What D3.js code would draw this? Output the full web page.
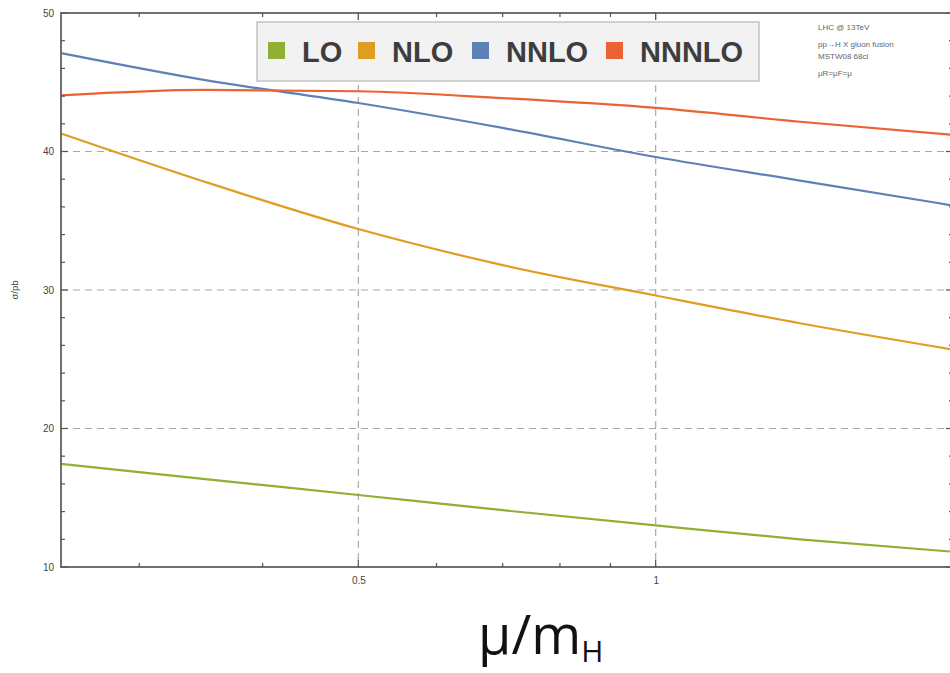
<!DOCTYPE html>
<html>
<head>
<meta charset="utf-8">
<script src="https://cdn.jsdelivr.net/npm/d3@7"></script>
<style>
  body { margin: 0; background: #fff; }
  svg { display: block; font-family: "Liberation Sans", Arial, sans-serif; }
</style>
</head>
<body>
<svg id="chart"></svg>
<script>
// scale mu/mH on a log axis, cross sections in pb
const mu = [0.25, 0.35, 0.5, 0.7, 1.0, 1.4, 2.0];
const lo    = [17.45, 16.35, 15.2, 14.1, 13.0, 12.0, 11.1];
const nlo   = [41.3, 37.8, 34.4, 31.8, 29.6, 27.6, 25.7];
const nnlo  = [47.1, 45.15, 43.5, 41.7, 39.6, 37.9, 36.1];
const nnnlo = [44.05, 44.45, 44.35, 43.85, 43.15, 42.15, 41.2];

const series_names = ['LO', 'NLO', 'NNLO', 'NNNLO'];
const series_colors = ['#8fb032', '#e19c24', '#5e81b5', '#eb6235'];

const x_major_ticks = [0.5, 1];
const x_minor_ticks = [0.3, 0.4, 0.6, 0.7, 0.8, 0.9];
const y_major_ticks = [10, 20, 30, 40, 50];
const y_minor_ticks = [12, 14, 16, 18, 22, 24, 26, 28, 32, 34, 36, 38, 42, 44, 46, 48];
const y_grid = [20, 30, 40];

const info_lines = ['LHC @ 13TeV', 'pp\u2192H X gluon fusion', 'MSTW08 68cl', '\u03bcR=\u03bcF=\u03bc'];

class ScaleChart {
    constructor (config, data) {
        this.config = {
            parent: config.parent,
            width: config.width || 950,
            height: config.height || 673,
            left: 61, right: 953, top: 13, bottom: 567,
        };
        this.data = data;
        this.init();
    }

    init() {
        let self = this;
        const c = self.config;

        self.svg = d3.select(c.parent)
            .attr('width', c.width)
            .attr('height', c.height);

        self.xscale = d3.scaleLog()
            .domain([0.25, 2])
            .range([c.left, c.right]);

        self.yscale = d3.scaleLinear()
            .domain([10, 50])
            .range([c.bottom, c.top]);

        self.line = d3.line()
            .x( d => self.xscale(d.x) )
            .y( d => self.yscale(d.y) )
            .curve(d3.curveMonotoneX);
    }

    render() {
        let self = this;
        const c = self.config;
        const grid_color = '#a8a8a8';
        const frame_color = '#707070';

        // dashed grid
        self.svg.append('g').selectAll('line')
            .data(y_grid)
            .join('line')
            .attr('x1', c.left).attr('x2', c.right)
            .attr('y1', d => self.yscale(d)).attr('y2', d => self.yscale(d))
            .attr('stroke', grid_color)
            .attr('stroke-width', 1.2)
            .attr('stroke-dasharray', '7,5');

        self.svg.append('g').selectAll('line')
            .data(x_major_ticks)
            .join('line')
            .attr('x1', d => self.xscale(d)).attr('x2', d => self.xscale(d))
            .attr('y1', c.top).attr('y2', c.bottom)
            .attr('stroke', grid_color)
            .attr('stroke-width', 1.2)
            .attr('stroke-dasharray', '7,5');

        // curves
        self.svg.append('g').selectAll('path')
            .data(self.data)
            .join('path')
            .attr('d', d => self.line(d.values))
            .attr('fill', 'none')
            .attr('stroke', d => d.color)
            .attr('stroke-width', 2.2);

        // frame with inward ticks
        const bottom_axis = d3.axisBottom(self.xscale)
            .tickValues(x_major_ticks)
            .tickFormat(d3.format('~g'))
            .tickSize(0).tickPadding(10);
        const left_axis = d3.axisLeft(self.yscale)
            .tickValues(y_major_ticks)
            .tickSize(0).tickPadding(7);

        self.svg.append('g')
            .attr('transform', `translate(0, ${c.bottom})`)
            .call(bottom_axis)
            .call(g => g.select('.domain').remove())
            .call(g => g.selectAll('text').attr('font-size', 10).attr('fill', '#444'));

        self.svg.append('g')
            .attr('transform', `translate(${c.left}, 0)`)
            .call(left_axis)
            .call(g => g.select('.domain').remove())
            .call(g => g.selectAll('text').attr('font-size', 10).attr('fill', '#444'));

        self.svg.append('rect')
            .attr('x', c.left).attr('y', c.top)
            .attr('width', c.right - c.left)
            .attr('height', c.bottom - c.top)
            .attr('fill', 'none')
            .attr('stroke', frame_color)
            .attr('stroke-width', 2);

        const ticks = self.svg.append('g')
            .attr('stroke', '#555')
            .attr('stroke-width', 1.2);
        const xt = x_major_ticks.map(v => ({v, len: 7}))
            .concat(x_minor_ticks.map(v => ({v, len: 4})));
        const yt = y_major_ticks.map(v => ({v, len: 7}))
            .concat(y_minor_ticks.map(v => ({v, len: 4})));

        ticks.selectAll('.xb').data(xt).join('line')
            .attr('x1', d => self.xscale(d.v)).attr('x2', d => self.xscale(d.v))
            .attr('y1', c.bottom).attr('y2', d => c.bottom - d.len);
        ticks.selectAll('.xt').data(xt).join('line')
            .attr('x1', d => self.xscale(d.v)).attr('x2', d => self.xscale(d.v))
            .attr('y1', c.top).attr('y2', d => c.top + d.len);
        ticks.selectAll('.yl').data(yt).join('line')
            .attr('y1', d => self.yscale(d.v)).attr('y2', d => self.yscale(d.v))
            .attr('x1', c.left).attr('x2', d => c.left + d.len);
        ticks.selectAll('.yr').data(yt).join('line')
            .attr('y1', d => self.yscale(d.v)).attr('y2', d => self.yscale(d.v))
            .attr('x1', c.right).attr('x2', d => c.right - d.len);

        // axis labels
        self.svg.append('text')
            .attr('transform', `translate(18, ${self.yscale(30)}) rotate(-90)`)
            .attr('text-anchor', 'middle')
            .attr('font-size', 9.5)
            .attr('fill', '#444')
            .text('\u03c3/pb');

        const xlabel = self.svg.append('text')
            .attr('x', 478)
            .attr('y', 654)
            .attr('font-family', '"Open Sans", sans-serif')
            .attr('font-size', 54)
            .attr('fill', '#111');
        xlabel.append('tspan').text('\u03bc/m');
        xlabel.append('tspan')
            .attr('font-size', 30)
            .attr('dy', 8)
            .text('H');

        // info text top right
        self.svg.append('g').selectAll('text')
            .data(info_lines)
            .join('text')
            .attr('x', 818)
            .attr('y', (d, i) => [30, 47, 59, 76][i])
            .attr('font-size', 8)
            .attr('fill', '#666')
            .text(d => d);

        // legend
        const legend = self.svg.append('g');
        legend.append('rect')
            .attr('x', 257).attr('y', 22)
            .attr('width', 502).attr('height', 59)
            .attr('fill', '#f2f2f2')
            .attr('stroke', '#c4c4c4')
            .attr('stroke-width', 1.5);

        const swatch_x = [268, 358, 472, 606];
        const item = legend.selectAll('.item')
            .data(self.data)
            .join('g')
            .attr('transform', (d, i) => `translate(${swatch_x[i]}, 42)`);
        item.append('rect')
            .attr('width', 17).attr('height', 17)
            .attr('fill', d => d.color);
        item.append('text')
            .attr('x', 34).attr('y', 20)
            .attr('font-size', 29)
            .attr('font-weight', 'bold')
            .attr('fill', '#3d3d3d')
            .text(d => d.name);
    }
}

const values = [lo, nlo, nnlo, nnnlo];
const data = series_names.map((name, i) => ({
    name: name,
    color: series_colors[i],
    values: mu.map((m, j) => ({x: m, y: values[i][j]}))
}));

const chart = new ScaleChart({parent: '#chart', width: 950, height: 673}, data);
chart.render();
</script>
</body>
</html>
